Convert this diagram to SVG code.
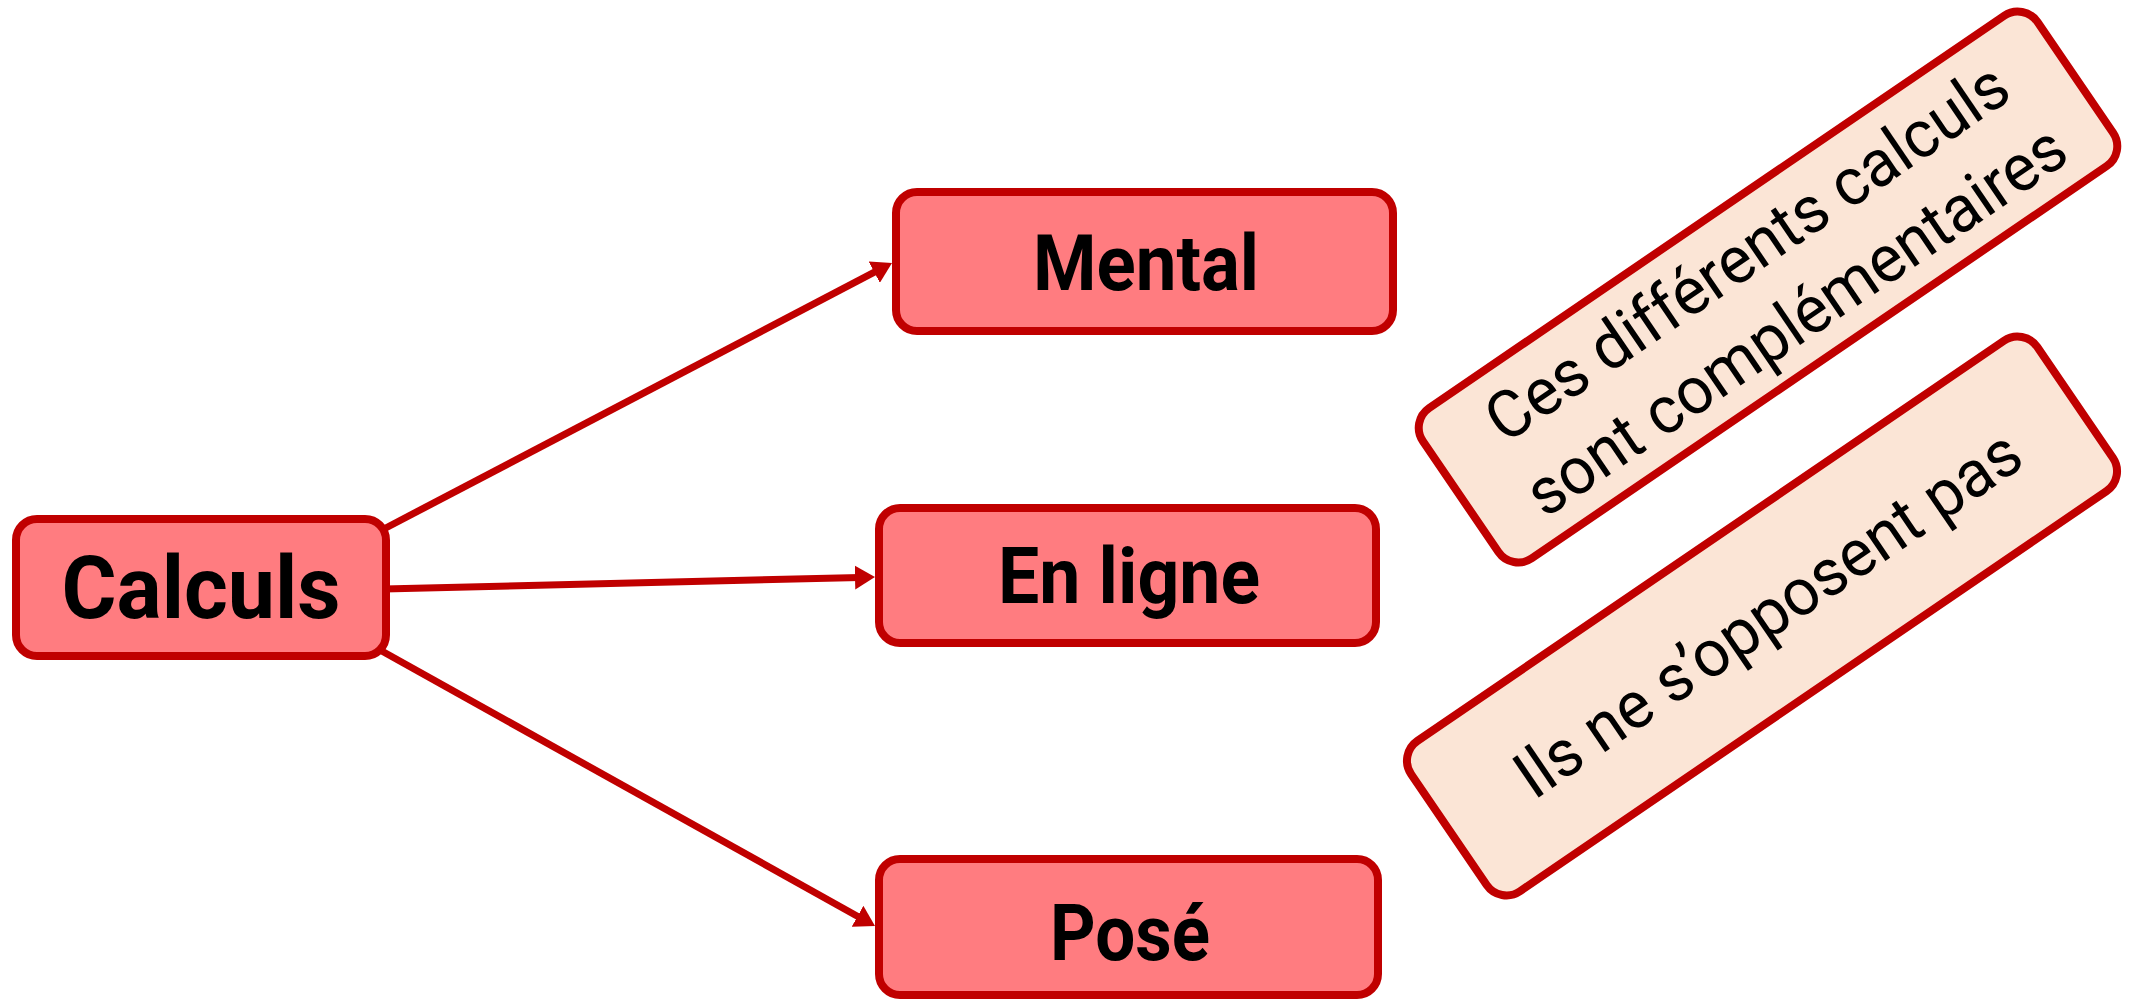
<svg xmlns="http://www.w3.org/2000/svg" width="2136" height="1000" viewBox="0 0 2136 1000">
<defs>
<style>
.node rect{fill:#FF7C80;stroke:#C00000;stroke-width:8}
.node text{font-family:Roboto,"Liberation Sans",sans-serif;font-weight:700;fill:#000;text-anchor:middle}
.note rect{fill:#FBE5D6;stroke:#C00000;stroke-width:8}
.note text{font-family:Roboto,"Liberation Sans",sans-serif;font-weight:400;font-size:66px;fill:#000;text-anchor:middle}
.edge{stroke:#C00000;stroke-width:7;fill:none;marker-end:url(#arr)}
</style>
<marker id="arr" markerUnits="userSpaceOnUse" markerWidth="20" markerHeight="24" refX="5" refY="12" orient="auto">
<path d="M0,0 L20,12 L0,24 Z" fill="#C00000"/>
</marker>
</defs>
<rect width="2136" height="1000" fill="#fff"/>
<g id="connectors">
<line class="edge" x1="380" y1="531" x2="878.7" y2="269.9"/>
<line class="edge" x1="384" y1="589" x2="860" y2="577.4"/>
<line class="edge" x1="380" y1="650" x2="861.9" y2="918.7"/>
</g>
<g id="calculs" class="node">
<rect x="16" y="519" width="370" height="137" rx="21"/>
<text x="201" y="618" font-size="88" textLength="279" lengthAdjust="spacingAndGlyphs">Calculs</text>
</g>
<g id="mental" class="node">
<rect x="896" y="192" width="497" height="139" rx="21"/>
<text x="1146" y="290" font-size="77" textLength="226" lengthAdjust="spacingAndGlyphs">Mental</text>
</g>
<g id="enligne" class="node">
<rect x="879" y="508" width="497" height="135" rx="21"/>
<text x="1129" y="603" font-size="77" textLength="262" lengthAdjust="spacingAndGlyphs">En ligne</text>
</g>
<g id="pose" class="node">
<rect x="879" y="859" width="499" height="136" rx="21"/>
<text x="1130" y="960" font-size="78" textLength="160" lengthAdjust="spacingAndGlyphs">Posé</text>
</g>
<g id="note1" class="note" transform="translate(1768,287) rotate(-34.3)">
<rect x="-372" y="-91" width="744" height="182" rx="24"/>
<text x="2" y="-18" textLength="617" lengthAdjust="spacingAndGlyphs">Ces différents calculs</text>
<text x="4" y="66" textLength="638" lengthAdjust="spacingAndGlyphs">sont complémentaires</text>
</g>
<g id="note2" class="note" transform="translate(1762,616) rotate(-34.3)">
<rect x="-379" y="-91" width="758" height="182" rx="24"/>
<text x="6" y="24" textLength="597" lengthAdjust="spacingAndGlyphs">Ils ne s’opposent pas</text>
</g>
</svg>
